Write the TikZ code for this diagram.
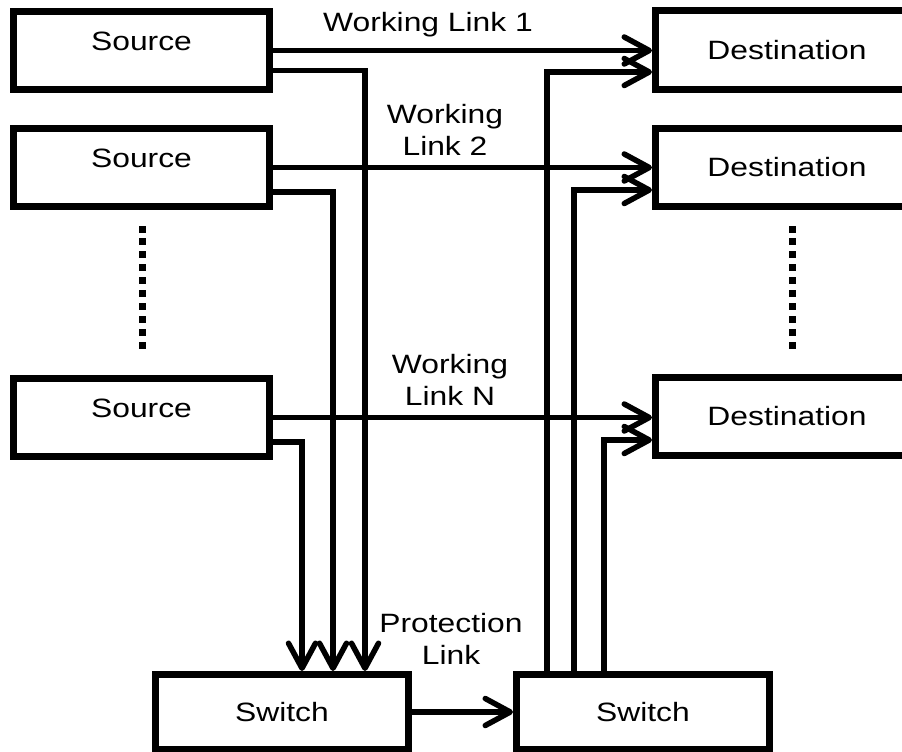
\documentclass[tikz,border=0pt]{standalone}
\usepackage{fontspec}
\setmainfont[FakeStretch=1.2]{Liberation Sans}
\usetikzlibrary{arrows.meta}
\tikzset{
  box/.style={draw,line width=7pt,minimum width=256pt,minimum height=78pt,inner sep=0pt},
  link/.style={line width=5.5pt},
  tip/.style={-{Straight Barb[length=25pt,width=27pt,round]}},
  lbl/.style={align=center,inner sep=0pt}
}
\newcommand{\lifted}[1]{\raisebox{9pt}[\height][\depth]{#1}}

\begin{document}
\begin{tikzpicture}[x=1pt,y=-1pt,font=\fontsize{26.5}{32}\selectfont]
\useasboundingbox (0,0) rectangle (902,752);

% sources
\node[box] (src1) at (141.5,50.5) {\lifted{Source}};
\node[box] (src2) at (141.5,167.5) {\lifted{Source}};
\node[box] (srcN) at (141.5,417.5) {\lifted{Source}};

% destinations (cut at right edge)
\node[box,minimum width=263pt] (dst1) at (787,50) {Destination};
\node[box,minimum width=263pt] (dst2) at (787,167.5) {Destination};
\node[box,minimum width=263pt] (dstN) at (787,416.5) {Destination};

% switches
\node[box,minimum width=253pt,minimum height=75pt] (swL) at (282,712) {Switch};
\node[box,minimum width=253pt,minimum height=75pt] (swR) at (643,712) {Switch};

% working links
\draw[link,tip] (src1.east) -- (src1.east -| dst1.west);
\draw[link,tip] (src2.east) -- (src2.east -| dst2.west);
\draw[link,tip] (srcN.east) -- (srcN.east -| dstN.west);

% to the left switch
\draw[link,tip] ([yshift=-20pt]src1.east) -| ([xshift=83pt]swL.north);
\draw[link,tip] ([yshift=-24.5pt]src2.east) -| ([xshift=51pt]swL.north);
\draw[link,tip] ([yshift=-24.5pt]srcN.east) -| ([xshift=20pt]swL.north);

% from the right switch
\draw[link,tip] ([xshift=-96pt]swR.north) |- ([yshift=-22pt]dst1.west);
\draw[link,tip] ([xshift=-69pt]swR.north) |- ([yshift=-22.5pt]dst2.west);
\draw[link,tip] ([xshift=-39pt]swR.north) |- ([yshift=-23.5pt]dstN.west);

% protection link
\draw[link,tip] (swL.east) -- (swR.west);

\node[lbl] (w1) at (428,25) {Working Link 1};
\node[lbl] (w2) at (445,130) {Working\\Link 2};
\node[lbl] (wN) at (450,380) {Working\\Link N};
\node[lbl] (prot) at (451,639) {Protection\\Link};

% dots
\foreach \k in {0,...,9} {
  \fill (138.5,225.5+12.9*\k) rectangle ++(7,7);
  \fill (788.5,225.5+12.9*\k) rectangle ++(7,7);
}
\end{tikzpicture}
\end{document}
